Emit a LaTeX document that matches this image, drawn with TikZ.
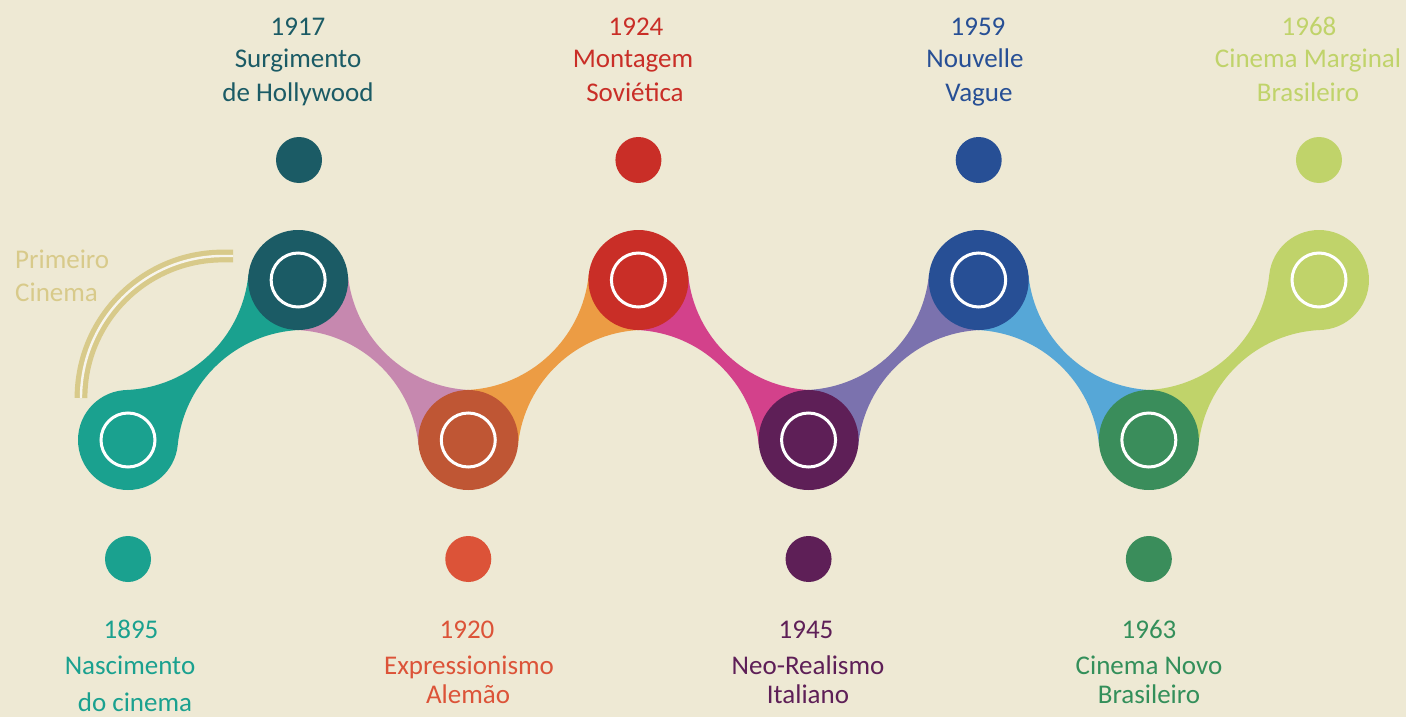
\documentclass[tikz,border=0pt]{standalone}
\usepackage{fontspec}
\setmainfont{Carlito}

\definecolor{paper}{HTML}{EEE9D4}
\definecolor{khaki}{HTML}{D8CA8A}
\definecolor{cteal}{HTML}{1AA18F}
\definecolor{cpetrol}{HTML}{1B5B65}
\definecolor{crust}{HTML}{BF5634}
\definecolor{corange}{HTML}{DC5338}
\definecolor{cred}{HTML}{C92E27}
\definecolor{cplum}{HTML}{5E1F57}
\definecolor{cblue}{HTML}{274F95}
\definecolor{cgreen}{HTML}{3A8D5B}
\definecolor{cgreentxt}{HTML}{338F5A}
\definecolor{clime}{HTML}{C0D36A}
\definecolor{bmauve}{HTML}{C688AF}
\definecolor{bamber}{HTML}{EC9C44}
\definecolor{bmagenta}{HTML}{D3418B}
\definecolor{blavender}{HTML}{7B72AE}
\definecolor{bsky}{HTML}{56A7D7}

\pgfdeclarelayer{back}
\pgfdeclarelayer{bands}
\pgfsetlayers{back,bands,main}

\tikzset{
  hub/.style={circle, inner sep=0pt, minimum size=100pt, fill=#1,
    path picture={\draw[white, line width=3pt]
      (path picture bounding box.center) circle[radius=27pt];}},
  dot/.style={circle, inner sep=0pt, minimum size=46pt, fill=#1},
  lbl/.style={anchor=base, inner sep=0pt, text=#1,
    font=\fontsize{27}{32}\selectfont},
  % hourglass band joining a hub to the next one, 170 right and 160 up
  pics/band/.style={code={
    \fill[#1] (-1.96,-49.96) arc[start angle=87.75, end angle=5.76, radius=128]
      -- (170.14,-160) -- (172.06,-110.04)
      arc[start angle=267.75, end angle=185.76, radius=128]
      -- (0,0) -- cycle;}}
}

\begin{document}
\begin{tikzpicture}[x=1pt, y=-1pt]
\useasboundingbox (0,0) rectangle (1406,717);
\begin{pgfonlayer}{back}
  \fill[paper] (0,0) rectangle (1406,717);
\end{pgfonlayer}

% hubs of the timeline
\node[hub=cteal]   (h1) at (128,440) {};
\node[hub=cpetrol] (h2) at (298.14,280) {};
\node[hub=crust]   (h3) at (468.28,440) {};
\node[hub=cred]    (h4) at (638.42,280) {};
\node[hub=cplum]   (h5) at (808.56,440) {};
\node[hub=cblue]   (h6) at (978.7,280) {};
\node[hub=cgreen]  (h7) at (1148.84,440) {};
\node[hub=clime]   (h8) at (1318.98,280) {};

% bands between consecutive hubs
\begin{pgfonlayer}{bands}
  \pic at (h1.center) {band=cteal};
  \pic[yscale=-1] at (h2.center) {band=bmauve};
  \pic at (h3.center) {band=bamber};
  \pic[yscale=-1] at (h4.center) {band=bmagenta};
  \pic at (h5.center) {band=blavender};
  \pic[yscale=-1] at (h6.center) {band=bsky};
  \pic at (h7.center) {band=clime};
\end{pgfonlayer}

% small markers
\node[dot=cteal]   (d1) at (128,559) {};
\node[dot=cpetrol] (d2) at (299,160) {};
\node[dot=corange] (d3) at (468.28,559) {};
\node[dot=cred]    (d4) at (638.42,160) {};
\node[dot=cplum]   (d5) at (808.56,559) {};
\node[dot=cblue]   (d6) at (978.7,160) {};
\node[dot=cgreen]  (d7) at (1148.84,559) {};
\node[dot=clime]   (d8) at (1318.98,160) {};

% upper captions
\node[lbl=cpetrol] (t2a) at (298,36) {1917};
\node[lbl=cpetrol] (t2b) at (298,68) {Surgimento};
\node[lbl=cpetrol] (t2c) at (298,102) {de Hollywood};
\node[lbl=cred] (t4a) at (636,36) {1924};
\node[lbl=cred] (t4b) at (633,68) {Montagem};
\node[lbl=cred] (t4c) at (635,102) {Soviética};
\node[lbl=cblue] (t6a) at (978,36) {1959};
\node[lbl=cblue] (t6b) at (975,68) {Nouvelle};
\node[lbl=cblue] (t6c) at (979,102) {Vague};
\node[lbl=clime] (t8a) at (1309,36) {1968};
\node[lbl=clime] (t8b) at (1308,68) {Cinema Marginal};
\node[lbl=clime] (t8c) at (1308,102) {Brasileiro};

% lower captions
\node[lbl=cteal] (t1a) at (131,638) {1895};
\node[lbl=cteal] (t1b) at (130,674) {Nascimento};
\node[lbl=cteal] (t1c) at (135,711) {do cinema};
\node[lbl=corange] (t3a) at (467,638) {1920};
\node[lbl=corange] (t3b) at (469,674) {Expressionismo};
\node[lbl=corange] (t3c) at (468,703) {Alemão};
\node[lbl=cplum] (t5a) at (806,638) {1945};
\node[lbl=cplum] (t5b) at (808,674) {Neo-Realismo};
\node[lbl=cplum] (t5c) at (808,703) {Italiano};
\node[lbl=cgreentxt] (t7a) at (1149,638) {1963};
\node[lbl=cgreentxt] (t7b) at (1149,674) {Cinema Novo};
\node[lbl=cgreentxt] (t7c) at (1149,703) {Brasileiro};

% early cinema bracket
\node[lbl=khaki, anchor=base west] (pc) at (15,268) {Primeiro};
\node[lbl=khaki, anchor=base west] (pcb) at (15,301) {Cinema};
\coordinate (arcfoot) at (81,398);
\coordinate (arctip) at (233,256);
\draw[khaki, line width=5.2pt, double=white!55!paper, double distance=2.4pt]
  (arcfoot) arc[start angle=180, end angle=270, radius=142] -- (arctip);
\end{tikzpicture}
\end{document}
